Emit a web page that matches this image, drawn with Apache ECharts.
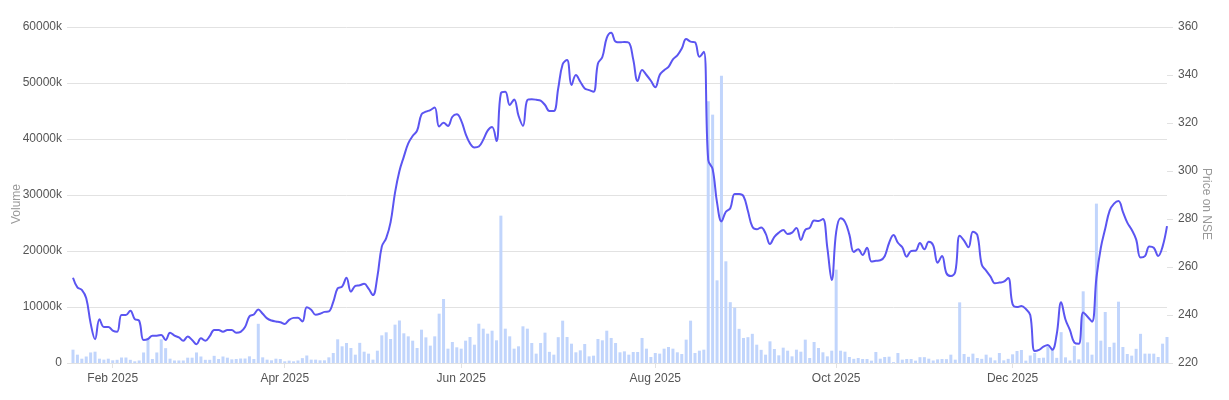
<!DOCTYPE html>
<html>
<head>
<meta charset="utf-8">
<script src="https://cdn.jsdelivr.net/npm/echarts@6/dist/echarts.min.js"></script>
<style>
  html, body { margin: 0; padding: 0; background: #ffffff; }
  #chart { width: 1229px; height: 400px; }
</style>
</head>
<body>
<div id="chart"></div>
<script>
// Trading days shown on the chart, listed per month
const tradingDaysByMonth = [
  ["2025-01", [21,22,23,24,27,28,29,30,31]],
  ["2025-02", [1,3,4,5,6,7,10,11,12,13,14,17,18,19,20,21,24,25,27,28]],
  ["2025-03", [3,4,5,6,7,10,11,12,13,17,18,19,20,21,24,25,26,27,28]],
  ["2025-04", [1,2,3,4,7,8,9,11,15,16,17,21,22,23,24,25,28,29,30]],
  ["2025-05", [2,5,6,7,8,9,12,13,14,15,16,19,20,21,22,23,26,27,28,29,30]],
  ["2025-06", [2,3,4,5,6,9,10,11,12,13,16,17,18,19,20,23,24,25,26,27,30]],
  ["2025-07", [1,2,3,4,7,8,9,10,11,14,15,16,17,18,21,22,23,24,25,28,29,30,31]],
  ["2025-08", [1,4,5,6,7,8,11,12,13,14,18,19,20,21,22,25,26,28,29]],
  ["2025-09", [1,2,3,4,5,8,9,10,11,12,15,16,17,18,19,22,23,24,25,26,29,30]],
  ["2025-10", [1,3,6,7,8,9,10,13,14,15,16,17,20,21,23,24,27,28,29,30,31]],
  ["2025-11", [3,4,6,7,10,11,12,13,14,17,18,19,20,21,24,25,26,27,28]],
  ["2025-12", [1,2,3,4,5,8,9,10,11,12,15,16,17,18,19,22,23,24,26,29,30,31]],
  ["2026-01", [1,2,5,6,7,8,9,12,13,14,16,19,20,21]]
];
const dates = [];
tradingDaysByMonth.forEach(([m, days]) => days.forEach(d => dates.push(m + "-" + String(d).padStart(2, "0"))));

// Month tick labels on the x axis
const tickDates  = ["2025-02-01", "2025-04-01", "2025-06-02", "2025-08-01", "2025-10-01", "2025-12-01"];
const tickLabels = ["Feb 2025", "Apr 2025", "Jun 2025", "Aug 2025", "Oct 2025", "Dec 2025"];

// Closing price on NSE (right axis)
const price = [
  255.5, 251.5, 250.5, 247, 236.5, 229.9, 238.2, 235, 235, 233.5,
  233, 240, 240, 241.8, 238.3, 237.6, 229.6, 230, 231.4, 231.4,
  231.7, 229.6, 232.6, 231.4, 230.7, 229.3, 231, 229.6, 227.8, 230.3,
  229.3, 231.2, 233.8, 233.8, 233, 233.8, 233.8, 232.6, 233, 235,
  239.4, 240.2, 242.3, 240.5, 238.6, 237.7, 237.3, 237, 236.3, 238,
  238.8, 238.9, 237.3, 243.2, 242.2, 240.1, 240.5, 241.3, 241.5, 245.5,
  251.1, 251.8, 255.5, 249.7, 252.1, 252.4, 253, 251, 248.3, 256,
  268.5, 272, 278.7, 291, 300, 306, 311.5, 314.6, 316.8, 323.6,
  324.7, 325.4, 326.5, 318.5, 320.1, 318.8, 322.6, 323.6, 321, 315.5,
  311.5, 309.8, 310.2, 313, 316.8, 318.3, 312.5, 332.4, 333, 327.5,
  329.8, 323, 318.8, 329.6, 329.9, 329.7, 329.3, 327.5, 325, 325,
  334.5, 344.5, 346.2, 335.8, 340, 337.2, 334.4, 333.7, 333, 344.8,
  347.5, 355.5, 357.6, 353.9, 353.6, 353.8, 353.5, 346.5, 337.5, 342.1,
  340, 337.6, 334.9, 340, 342, 343.4, 346.5, 348.2, 351, 355,
  353.9, 353.6, 347.6, 349.7, 304.6, 300.8, 286.8, 279, 283, 284.5,
  290.4, 290.4, 289.5, 283.3, 276.8, 275.7, 276.5, 274, 269.6, 272.6,
  274.3, 275.4, 273.75, 274.3, 276.3, 271.3, 275.5, 276.3, 279.4, 279.2,
  280, 268, 254.6, 274.5, 280.3, 278.8, 273.5, 266.3, 267.4, 265,
  268, 262.3, 262.6, 262.8, 264.5, 270, 273.3, 270.1, 268.2, 264.3,
  266.7, 266.8, 270, 267.4, 270.5, 269, 261.8, 264.6, 257.4, 256.25,
  258, 273, 271, 268.2, 274.7, 273.3, 261, 258.5, 256, 253.2,
  253.5, 253.9, 255.4, 244.5, 243.3, 243.7, 242.5, 240, 225, 225.5,
  226.8, 227.5, 225.5, 232, 245.3, 238, 233.7, 228.5, 228, 241,
  239.3, 237.2, 255.5, 268, 276, 283.5, 286.4, 287.5, 283, 278.5,
  275.5, 271.5, 264, 264.5, 268.5, 268, 264.6, 268.5, 277
];

// Traded volume in thousands (left axis)
const volume = [
  2380, 1490, 770, 1160, 1880, 2020, 770, 600, 770, 480,
  570, 980, 980, 570, 300, 450, 1880, 4170, 710, 1880,
  4230, 2650, 770, 450, 450, 450, 950, 950, 1880, 1160,
  570, 570, 1280, 710, 1160, 950, 650, 710, 800, 800,
  1190, 710, 7000, 1010, 600, 480, 770, 710, 300, 420,
  300, 450, 870, 1340, 600, 600, 480, 480, 1010, 1790,
  4230, 2980, 3570, 2680, 1490, 3600, 2020, 1670, 600, 2200,
  4940, 5480, 4290, 6850, 7590, 5300, 4760, 3990, 2680, 5950,
  4580, 3100, 4760, 8810, 11430, 2560, 3750, 2800, 2560, 3990,
  4640, 3270, 7020, 6130, 5240, 5770, 4050, 26310, 6130, 4760,
  2560, 2980, 6550, 6130, 3570, 1670, 3570, 5420, 1990, 1490,
  4610, 7560, 4640, 3450, 1910, 2260, 3390, 1190, 1310, 4290,
  4050, 5770, 4470, 3570, 1910, 2080, 1490, 1960, 1960, 4470,
  2560, 1070, 1790, 1670, 2560, 2860, 2560, 1910, 1610, 4170,
  7560, 1790, 2200, 2380, 46730, 44350, 14760, 51300, 18160, 10860,
  9880, 6100, 4470, 4610, 5210, 3270, 2350, 1490, 3870, 2500,
  1370, 2740, 2200, 1190, 2380, 2020, 4170, 890, 3750, 2680,
  1910, 1190, 2200, 16670, 2200, 2020, 1070, 740, 890, 710,
  710, 420, 1960, 770, 1070, 1130, 150, 1790, 600, 710,
  710, 420, 1040, 1040, 770, 450, 650, 710, 690, 1490,
  600, 10830, 1610, 1100, 1670, 890, 740, 1490, 980, 480,
  1790, 480, 740, 1550, 2140, 2320, 420, 1340, 1790, 890,
  950, 2980, 2640, 920, 5510, 1010, 450, 3040, 650, 12800,
  3690, 1490, 28460, 3990, 9110, 2860, 3630, 10950, 2860, 1610,
  1310, 2530, 5210, 1670, 1670, 1670, 1070, 3450, 4640
];

const FONT = "'Liberation Sans', Arial, sans-serif";
const GRID = '#e2e2e2';
const isTick = (idx, val) => tickDates.indexOf(val) !== -1;

const chart = echarts.init(document.getElementById('chart'), null, { renderer: 'canvas' });
chart.setOption({
  animation: false,
  backgroundColor: '#ffffff',
  textStyle: { fontFamily: FONT },
  grid: { left: 73, right: 62, top: 27, bottom: 37, containLabel: false, outerBoundsMode: 'none' },
  xAxis: {
    type: 'category',
    data: dates,
    boundaryGap: false,
    axisLine: { show: false },
    axisTick: { show: true, interval: isTick, length: 5, lineStyle: { color: GRID } },
    axisLabel: {
      interval: isTick,
      margin: 10,
      color: '#555',
      fontSize: 12,
      fontFamily: FONT,
      formatter: v => tickLabels[tickDates.indexOf(v)]
    },
    splitLine: { show: false }
  },
  yAxis: [
    {
      type: 'value',
      position: 'left',
      min: 0, max: 60000, interval: 10000,
      name: 'Volume',
      nameLocation: 'middle',
      nameGap: 50,
      nameMoveOverlap: false,
      nameTextStyle: { color: '#999', fontSize: 12, fontFamily: FONT, padding: [0, 18, 0, 0] },
      axisLine: { show: false },
      axisTick: { show: true, length: 6, lineStyle: { color: GRID } },
      axisLabel: { margin: 11, color: '#555', fontSize: 12, fontFamily: FONT, formatter: v => (v === 0 ? '0' : v + 'k') },
      splitLine: { show: true, lineStyle: { color: GRID, width: 1 } }
    },
    {
      type: 'value',
      position: 'right',
      min: 220, max: 360, interval: 20,
      name: 'Price on NSE',
      nameLocation: 'middle',
      nameRotate: -90,
      nameGap: 33,
      nameMoveOverlap: false,
      nameTextStyle: { color: '#999', fontSize: 12, fontFamily: FONT, padding: [0, 0, 0, 18] },
      axisLine: { show: false },
      axisTick: { show: true, length: 6, lineStyle: { color: GRID } },
      axisLabel: { margin: 11, color: '#555', fontSize: 12, fontFamily: FONT },
      splitLine: { show: false }
    }
  ],
  series: [
    {
      name: 'Volume',
      type: 'bar',
      yAxisIndex: 0,
      data: volume,
      barWidth: 3,
      itemStyle: { color: '#c1d5fc' },
      clip: true
    },
    {
      name: 'Price on NSE',
      type: 'line',
      yAxisIndex: 1,
      data: price,
      smooth: 0.4,
      showSymbol: false,
      lineStyle: { color: '#5b55f1', width: 2 },
      itemStyle: { color: '#5b55f1' },
      clip: true
    }
  ]
});
</script>
</body>
</html>
